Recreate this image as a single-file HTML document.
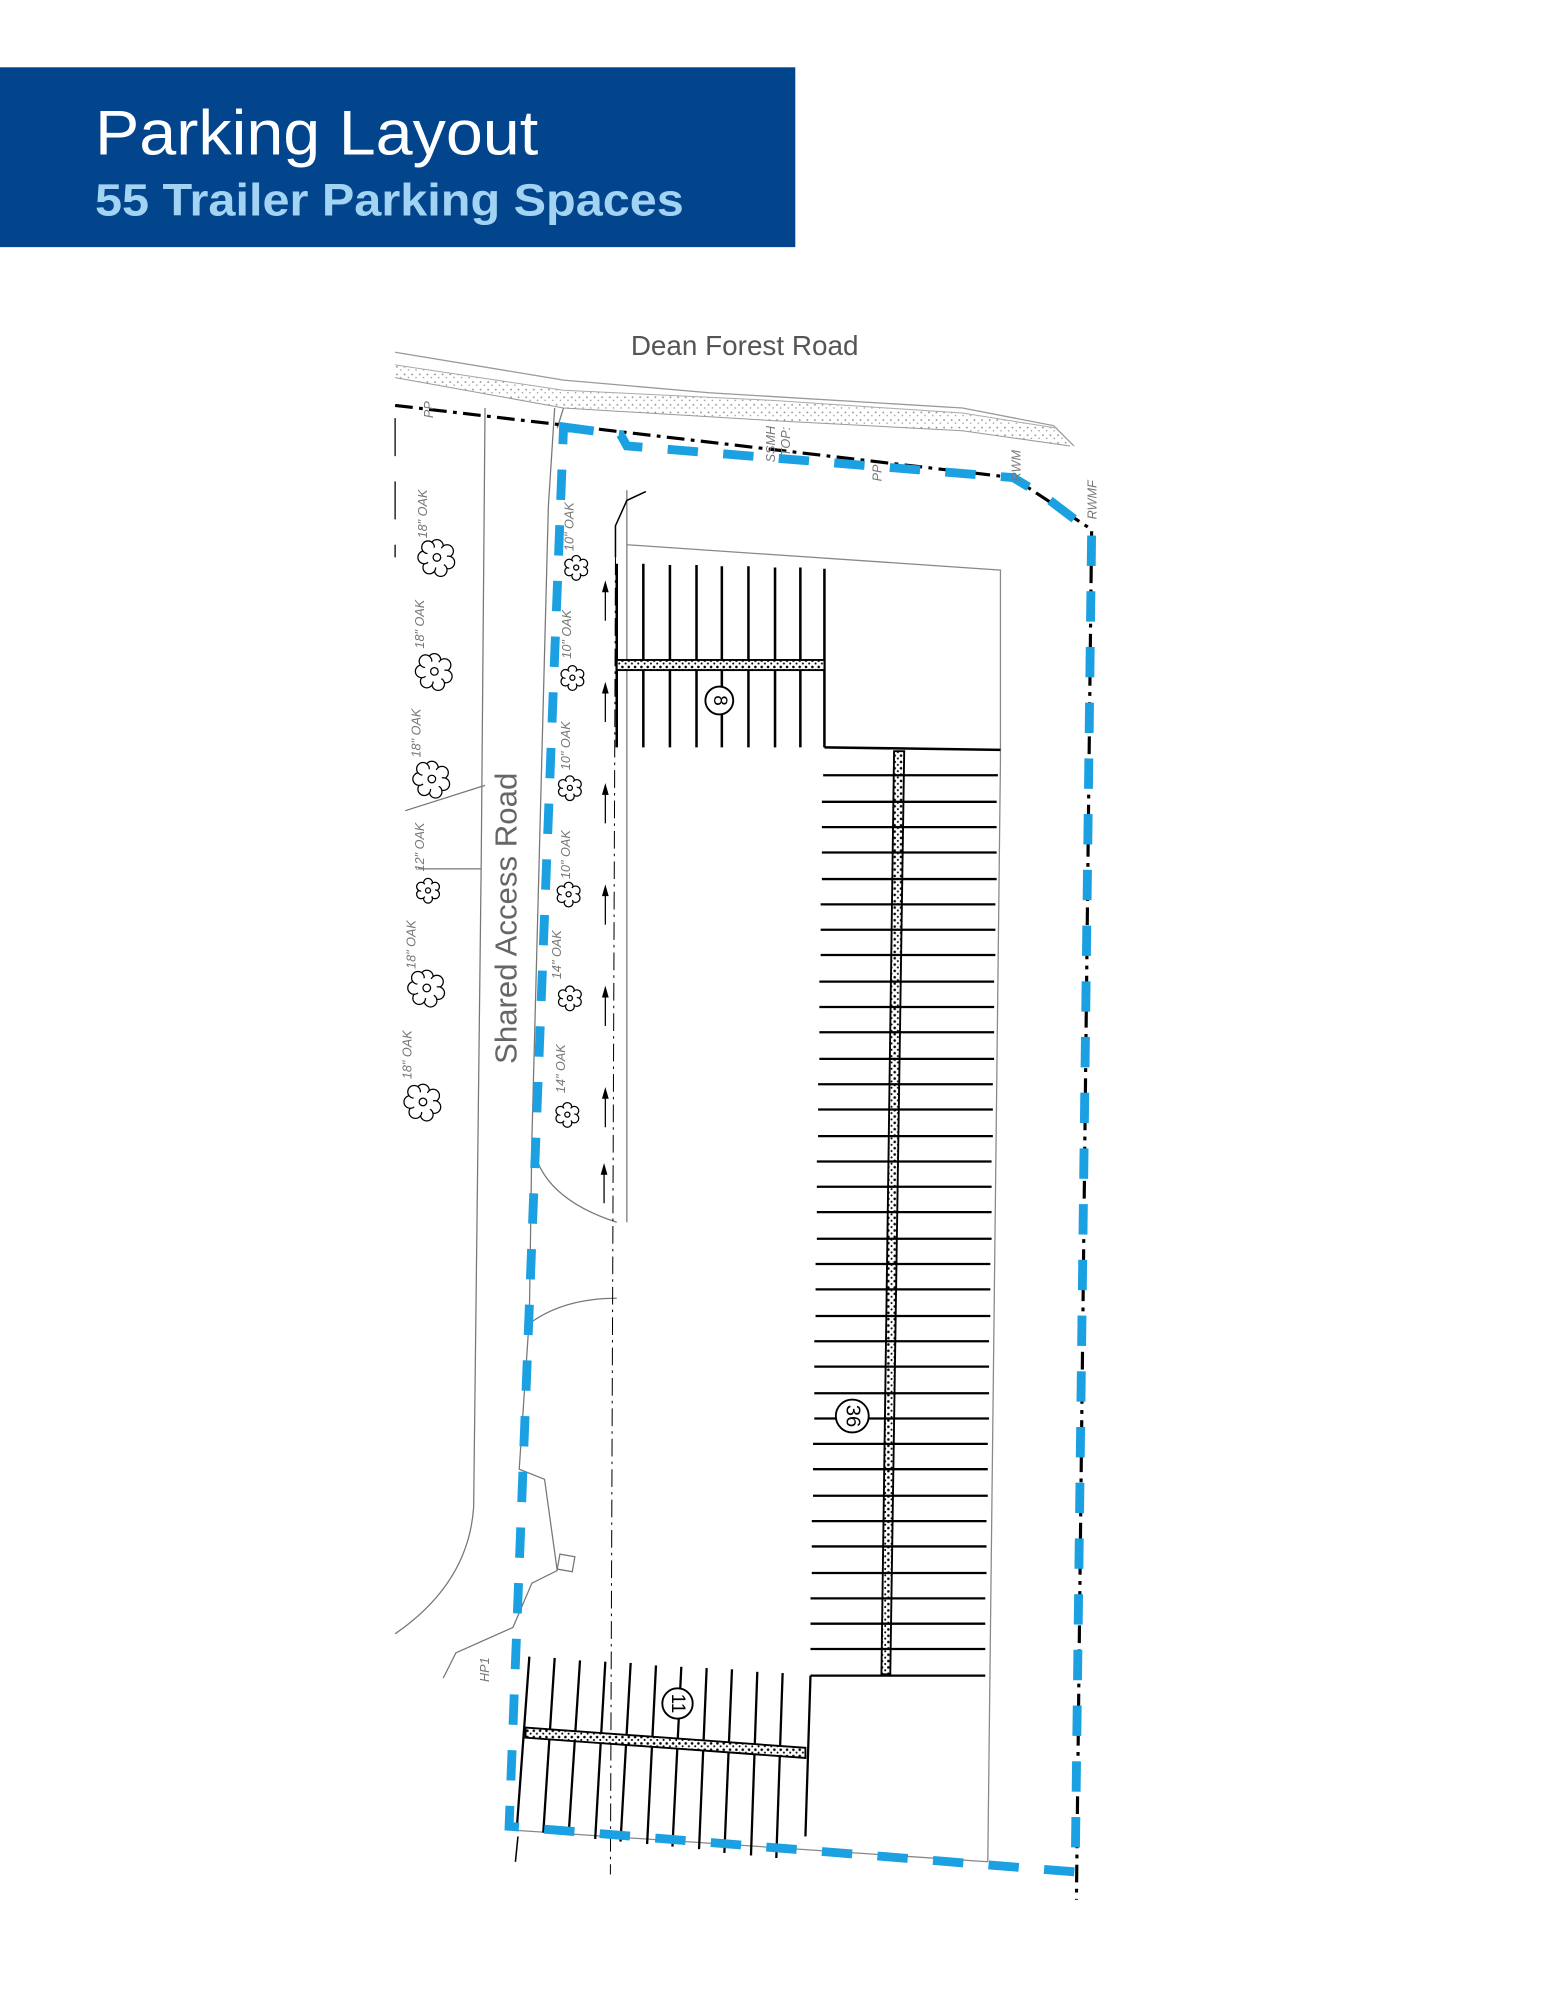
<!DOCTYPE html>
<html><head><meta charset="utf-8"><style>
html,body{margin:0;padding:0;background:#fff;}
svg{display:block;}
</style></head><body>
<svg width="1545" height="2000" viewBox="0 0 1220 1579" xmlns="http://www.w3.org/2000/svg">
<defs>
<pattern id="stip" width="6" height="6" patternUnits="userSpaceOnUse"><rect width="6" height="6" fill="#fff"/><circle cx="1.5" cy="1.5" r="0.7" fill="#888"/><circle cx="4.5" cy="4" r="0.6" fill="#999"/></pattern>
<pattern id="bstip" width="5" height="5" patternUnits="userSpaceOnUse"><rect width="5" height="5" fill="#fff"/><circle cx="1.5" cy="1.5" r="1" fill="#000"/><circle cx="4" cy="3.8" r="0.8" fill="#000"/></pattern>
<g id="tree" fill="#fff" stroke="#000" stroke-width="1">
<circle cx="0" cy="-9" r="5"/><circle cx="8" cy="-5" r="5"/><circle cx="9" cy="4" r="5"/><circle cx="3" cy="10" r="5"/><circle cx="-6" cy="8" r="5"/><circle cx="-10" cy="0" r="5"/><circle cx="-7" cy="-8" r="5"/>
<circle cx="0" cy="0" r="8" stroke="none"/><circle cx="0" cy="0" r="3"/>
</g>
<g id="stree" fill="#fff" stroke="#000" stroke-width="1">
<circle cx="0" cy="-6" r="3.5"/><circle cx="5.5" cy="-3" r="3.5"/><circle cx="5.5" cy="3" r="3.5"/><circle cx="0" cy="6.5" r="3.5"/><circle cx="-5.5" cy="3" r="3.5"/><circle cx="-5.5" cy="-3" r="3.5"/>
<circle cx="0" cy="0" r="5.5" stroke="none"/><circle cx="0" cy="0" r="2"/>
</g>
</defs>

<!-- banner -->
<rect x="0" y="53" width="628" height="142" fill="#03458c"/>
<text x="75" y="122" font-family="Liberation Sans, sans-serif" font-size="50" fill="#fff" textLength="350" lengthAdjust="spacingAndGlyphs">Parking Layout</text>
<text x="75" y="170" font-family="Liberation Sans, sans-serif" font-weight="bold" font-size="36" fill="#a3d3f3" textLength="465" lengthAdjust="spacingAndGlyphs">55 Trailer Parking Spaces</text>

<text x="588" y="280" text-anchor="middle" font-family="Liberation Sans, sans-serif" font-size="22" fill="#555">Dean Forest Road</text>

<!-- road -->
<polygon points="312,288 445,308 610,316 760,326 835,338 845,352 760,340 610,332 445,322 312,298" fill="url(#stip)"/>
<polyline points="312,278 445,300 560,310 760,322 832,336 848,352" fill="none" stroke="#999" stroke-width="1"/>
<polyline points="312,288 445,308 610,316 760,326 835,338" fill="none" stroke="#aaa" stroke-width="0.8"/>
<polyline points="312,298 445,322 610,332 760,340 845,352" fill="none" stroke="#999" stroke-width="0.8"/>

<!-- shared access road lines -->
<g fill="none" stroke="#777" stroke-width="1">
<path d="M383,322 L380,680 L374,1190 Q370,1250 312,1290"/>
<path d="M438,322 L433,400 L420,900 Q425,945 487,965"/>
<path d="M420,900 L418,1040 L410,1160 L430,1168 L440,1240 L420,1250 L405,1285 L360,1305 L350,1325"/>
<path d="M418,1045 Q445,1025 487,1025"/>
<path d="M320,640 L383,620"/>
<path d="M330,686 L380,686"/>
<path d="M495,387 L495,965"/>
<path d="M445,322 L440,338"/>
<rect x="441" y="1228" width="12" height="12" transform="rotate(10 447 1234)"/>
</g>
<line x1="312" y1="330" x2="312" y2="440" stroke="#000" stroke-width="1" stroke-dasharray="30 20"/>
<polyline points="510,388 495,395 486,415 486,440" fill="none" stroke="#000" stroke-width="1.2"/>
<line x1="486" y1="440" x2="482" y2="1480" stroke="#000" stroke-width="0.8" stroke-dasharray="14 4 2 4"/>
<line x1="409" y1="1450" x2="407" y2="1470" stroke="#000" stroke-width="1.2"/>
<!-- arrows -->
<g stroke="#000" stroke-width="1" fill="#000">
<line x1="478" y1="465" x2="478" y2="490"/><path d="M478,460 l-2,7 h4z"/>
<line x1="478" y1="545" x2="478" y2="570"/><path d="M478,540 l-2,7 h4z"/>
<line x1="478" y1="625" x2="478" y2="650"/><path d="M478,620 l-2,7 h4z"/>
<line x1="478" y1="705" x2="478" y2="730"/><path d="M478,700 l-2,7 h4z"/>
<line x1="478" y1="785" x2="478" y2="810"/><path d="M478,780 l-2,7 h4z"/>
<line x1="478" y1="865" x2="478" y2="890"/><path d="M478,860 l-2,7 h4z"/>
<line x1="477" y1="925" x2="477" y2="950"/><path d="M477,920 l-2,7 h4z"/>
</g>

<!-- parking outline -->
<g fill="none" stroke="#888" stroke-width="1">
<polyline points="495,430 790,450 790,600"/>
<line x1="790" y1="600" x2="780" y2="1470"/>
<line x1="405" y1="1445" x2="780" y2="1470"/>
</g>

<!-- property line -->
<polyline points="312,320 800,377 862,418 850,1500" fill="none" stroke="#000" stroke-width="2.5" stroke-dasharray="14 5 3 5"/>

<!-- top block (8) -->
<g stroke="#000" stroke-width="2">
<line x1="487" y1="445" x2="487" y2="590"/><line x1="508" y1="445" x2="508" y2="590"/><line x1="529" y1="446" x2="529" y2="590"/><line x1="550" y1="446" x2="550" y2="590"/><line x1="570" y1="447" x2="570" y2="590"/><line x1="591" y1="447" x2="591" y2="590"/><line x1="612" y1="448" x2="612" y2="590"/><line x1="632" y1="448" x2="632" y2="590"/><line x1="651" y1="449" x2="651" y2="590"/>
<line x1="651" y1="590" x2="790" y2="592"/>
</g>
<rect x="487" y="521" width="164" height="8" fill="url(#bstip)" stroke="#000" stroke-width="1.5"/>
<circle cx="568" cy="553" r="11" fill="#fff" stroke="#000" stroke-width="1.5"/>
<text x="568" y="553" transform="rotate(90 568 553)" text-anchor="middle" dominant-baseline="central" font-family="Liberation Sans, sans-serif" font-size="15">8</text>

<!-- big block (36) -->
<polygon points="706,593 714,593 703,1322 696,1322" fill="url(#bstip)" stroke="#000" stroke-width="1.5"/>
<g stroke="#000" stroke-width="1.8">
<line x1="650" y1="612" x2="788" y2="612"/><line x1="649" y1="633" x2="787" y2="633"/><line x1="649" y1="653" x2="787" y2="653"/><line x1="649" y1="673" x2="787" y2="673"/><line x1="649" y1="694" x2="787" y2="694"/><line x1="648" y1="714" x2="786" y2="714"/><line x1="648" y1="734" x2="786" y2="734"/><line x1="648" y1="754" x2="786" y2="754"/><line x1="647" y1="775" x2="785" y2="775"/><line x1="647" y1="795" x2="785" y2="795"/><line x1="647" y1="815" x2="785" y2="815"/><line x1="647" y1="836" x2="785" y2="836"/><line x1="646" y1="856" x2="784" y2="856"/><line x1="646" y1="876" x2="784" y2="876"/><line x1="646" y1="897" x2="784" y2="897"/><line x1="645" y1="917" x2="783" y2="917"/><line x1="645" y1="937" x2="783" y2="937"/><line x1="645" y1="957" x2="783" y2="957"/><line x1="645" y1="978" x2="783" y2="978"/><line x1="644" y1="998" x2="782" y2="998"/><line x1="644" y1="1018" x2="782" y2="1018"/><line x1="644" y1="1039" x2="782" y2="1039"/><line x1="643" y1="1059" x2="781" y2="1059"/><line x1="643" y1="1079" x2="781" y2="1079"/><line x1="643" y1="1100" x2="781" y2="1100"/><line x1="643" y1="1120" x2="781" y2="1120"/><line x1="642" y1="1140" x2="780" y2="1140"/><line x1="642" y1="1160" x2="780" y2="1160"/><line x1="642" y1="1181" x2="780" y2="1181"/><line x1="641" y1="1201" x2="779" y2="1201"/><line x1="641" y1="1221" x2="779" y2="1221"/><line x1="641" y1="1242" x2="779" y2="1242"/><line x1="640" y1="1262" x2="778" y2="1262"/><line x1="640" y1="1282" x2="778" y2="1282"/><line x1="640" y1="1302" x2="778" y2="1302"/>
<line x1="640" y1="1323" x2="778" y2="1323"/>
<line x1="640" y1="1323" x2="636" y2="1450"/>
</g>
<circle cx="673" cy="1118" r="13" fill="#fff" stroke="#000" stroke-width="1.5"/>
<text x="673" y="1118" transform="rotate(90 673 1118)" text-anchor="middle" dominant-baseline="central" font-family="Liberation Sans, sans-serif" font-size="16">36</text>

<!-- bottom block (11) -->
<g stroke="#000" stroke-width="1.8">
<line x1="418" y1="1308" x2="408" y2="1445"/><line x1="438" y1="1309" x2="429" y2="1447"/><line x1="458" y1="1311" x2="449" y2="1449"/><line x1="478" y1="1312" x2="470" y2="1452"/><line x1="498" y1="1313" x2="490" y2="1454"/><line x1="518" y1="1315" x2="511" y2="1456"/><line x1="538" y1="1316" x2="531" y2="1458"/><line x1="558" y1="1317" x2="552" y2="1460"/><line x1="578" y1="1318" x2="572" y2="1463"/><line x1="598" y1="1320" x2="593" y2="1465"/><line x1="618" y1="1321" x2="613" y2="1467"/>
</g>
<polygon points="415,1364 636,1380 636,1388 415,1372" fill="url(#bstip)" stroke="#000" stroke-width="1.5"/>
<circle cx="535" cy="1345" r="12" fill="#fff" stroke="#000" stroke-width="1.5"/>
<text x="535" y="1345" transform="rotate(90 535 1345)" text-anchor="middle" dominant-baseline="central" font-family="Liberation Sans, sans-serif" font-size="15">11</text>

<!-- blue boundary -->
<path d="M445,337 L490,343 L495,352 L800,377 L825,392 L862,420 L849,1478 L402,1442 Z" fill="none" stroke="#1ba1e2" stroke-width="7" stroke-dasharray="24 20"/>

<!-- trees -->
<use href="#tree" x="345" y="440"/><use href="#tree" x="343" y="530"/><use href="#tree" x="341" y="615"/>
<use href="#stree" x="338" y="703"/><use href="#tree" x="337" y="780"/><use href="#tree" x="334" y="870"/>
<use href="#stree" x="455" y="448"/><use href="#stree" x="452" y="535"/><use href="#stree" x="450" y="622"/>
<use href="#stree" x="449" y="706"/><use href="#stree" x="450" y="788"/><use href="#stree" x="448" y="880"/>
<g font-family="Liberation Sans, sans-serif" font-size="10" fill="#777" font-style="italic">
<text transform="translate(337,425) rotate(-90)">18" OAK</text>
<text transform="translate(335,512) rotate(-90)">18" OAK</text>
<text transform="translate(332,598) rotate(-90)">18" OAK</text>
<text transform="translate(335,688) rotate(-90)">12" OAK</text>
<text transform="translate(328,765) rotate(-90)">18" OAK</text>
<text transform="translate(325,852) rotate(-90)">18" OAK</text>
<text transform="translate(453,435) rotate(-90)">10" OAK</text>
<text transform="translate(451,520) rotate(-90)">10" OAK</text>
<text transform="translate(450,608) rotate(-90)">10" OAK</text>
<text transform="translate(450,694) rotate(-90)">10" OAK</text>
<text transform="translate(443,773) rotate(-90)">14" OAK</text>
<text transform="translate(446,863) rotate(-90)">14" OAK</text>
<text transform="translate(386,1328) rotate(-90)">HP1</text>
<text transform="translate(342,330) rotate(-90)">PP</text>
<text transform="translate(696,380) rotate(-90)">PP</text>
<text transform="translate(806,380) rotate(-90)">RWM</text>
<text transform="translate(866,410) rotate(-90)">RWMF</text>
<text transform="translate(612,365) rotate(-90)">SSMH</text>
<text transform="translate(624,360) rotate(-90)">TOP:</text>
</g>
<text transform="translate(408,840) rotate(-90)" font-family="Liberation Sans, sans-serif" font-size="24" fill="#666" textLength="230" lengthAdjust="spacingAndGlyphs">Shared Access Road</text>
</svg>
</body></html>
